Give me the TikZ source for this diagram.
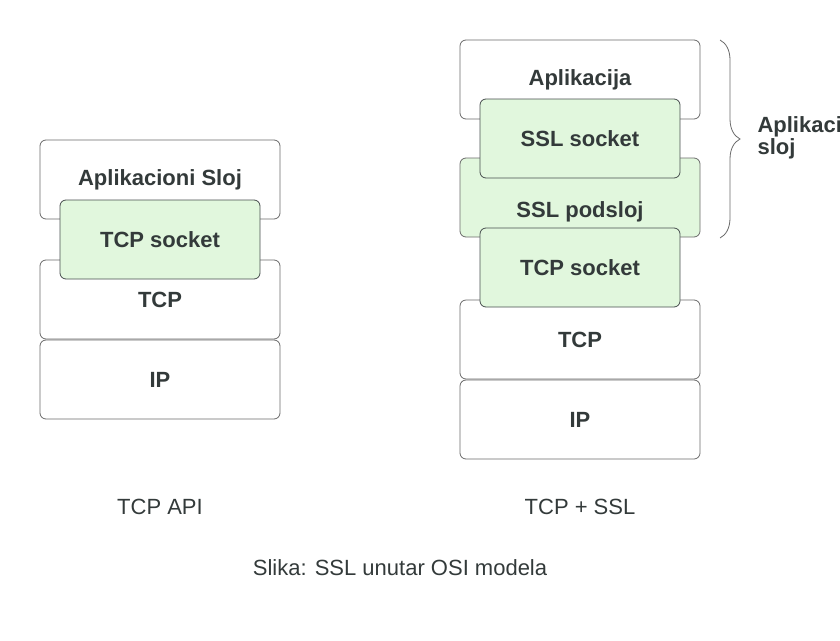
\documentclass[tikz,border=0pt]{standalone}
\usepackage{fontspec}
\setmainfont{Liberation Sans}
\usetikzlibrary{decorations.pathreplacing}
\definecolor{rand}{HTML}{6A6A6A}
\definecolor{zelena}{HTML}{E1F7DD}
\definecolor{tekst}{HTML}{333A3A}

\begin{document}
\begin{tikzpicture}[x=1pt,y=-1pt,font=\fontsize{22}{26}\selectfont,
  sloj/.style={draw=rand,line width=0.8pt,fill=white,rounded corners=6pt,minimum width=240pt,minimum height=79pt,inner sep=0pt,text=tekst,font=\fontsize{22}{26}\selectfont\bfseries},
  soket/.style={sloj,fill=zelena,draw=tekst!90,minimum width=200pt},
  natpis/.style={text=tekst}]
\useasboundingbox (0,0) rectangle (840,640);
\clip (0,0) rectangle (840,640);
% TCP API
\node[sloj] (aplL) at (160,179.5) {Aplikacioni Sloj};
\node[sloj] (tcpL) at (160,299.5) {TCP};
\node[sloj] (ipL) at (160,379.5) {IP};
\node[soket] (sockL) at (160,239.5) {TCP socket};
\node[natpis] (apiL) at (160,507) {TCP API};
% TCP + SSL
\node[sloj] (aplR) at (580,79.5) {Aplikacija};
\node[sloj,fill=zelena] (podR) at (580,197.5) {};
\node[sloj,draw=none,fill=none,minimum height=0pt] (podRt) at ([yshift=-14pt]podR.center) {SSL podsloj};
\node[sloj] (tcpR) at (580,339.5) {TCP};
\node[sloj] (ipR) at (580,419.5) {IP};
\node[soket] (sslR) at (580,138.5) {SSL socket};
\node[soket] (sockR) at (580,267.5) {TCP socket};
\node[natpis] (apiR) at (580,507) {TCP + SSL};
% zagrada
\coordinate (zg) at (720,40);
\coordinate (zd) at (720,238);
\draw[rand,line width=0.8pt,decorate,decoration={brace,amplitude=20pt}] (zg) -- (zd);
\node[anchor=west,align=left,text=tekst,font=\fontsize{22}{22}\selectfont\bfseries] (aplsloj) at (754,138) {Aplikacioni\\sloj};
\node[natpis] (slika) at (400,568) {Slika: SSL unutar OSI modela};
\end{tikzpicture}
\end{document}
